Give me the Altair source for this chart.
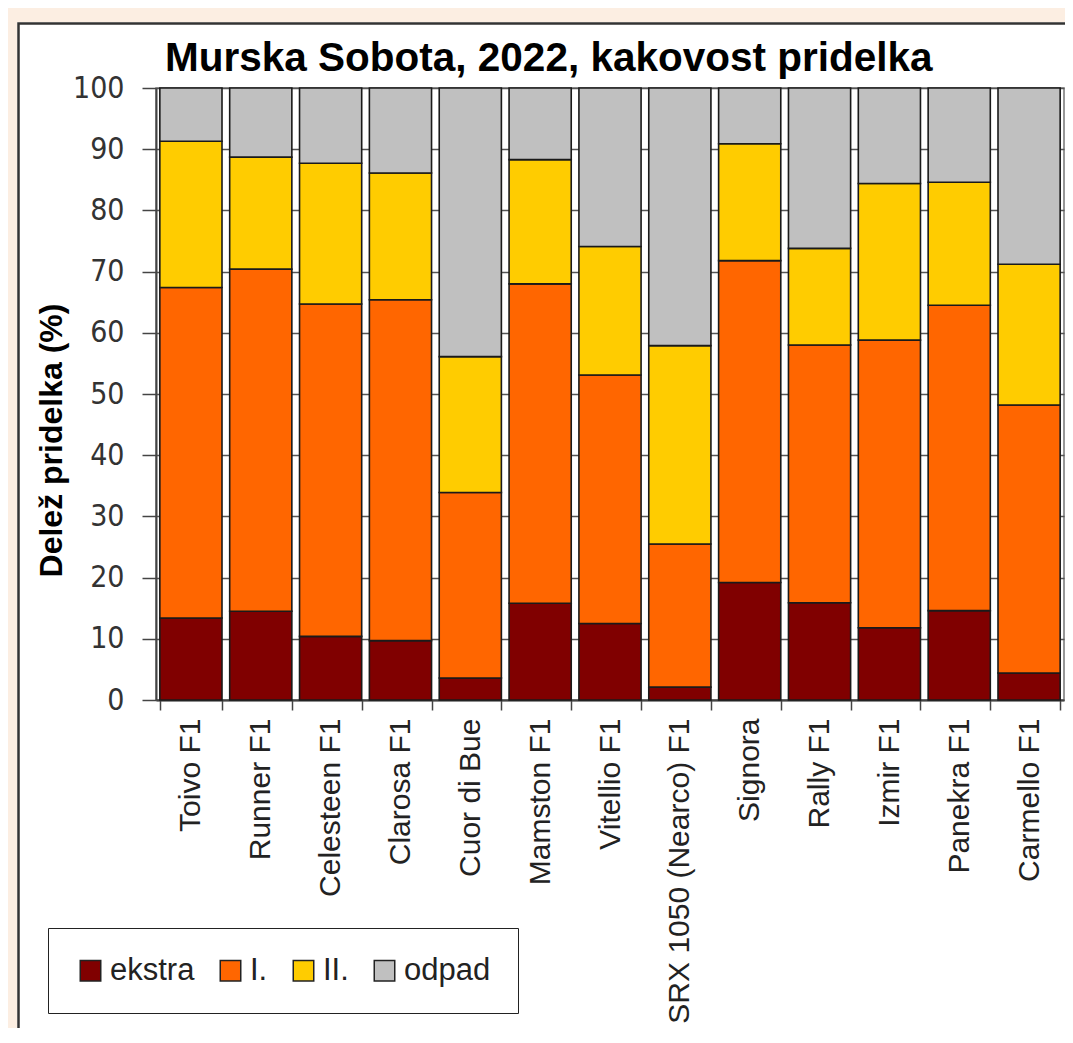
import altair as alt
import pandas as pd

# --- data (cumulative tops of each class, %) ---
sorte = ["Toivo F1", "Runner F1", "Celesteen F1", "Clarosa F1", "Cuor di Bue",
         "Mamston F1", "Vitellio F1", "SRX 1050 (Nearco) F1", "Signora",
         "Rally F1", "Izmir F1", "Panekra F1", "Carmello F1"]
top_ekstra = [13.4, 14.5, 10.4, 9.7, 3.6, 15.8, 12.5, 2.1, 19.2, 15.9, 11.8, 14.6, 4.4]
top_I = [67.4, 70.4, 64.7, 65.4, 33.9, 68.0, 53.1, 25.5, 71.8, 58.0, 58.8, 64.5, 48.2]
top_II = [91.3, 88.7, 87.7, 86.1, 56.1, 88.3, 74.1, 57.9, 90.9, 73.8, 84.4, 84.6, 71.2]
razredi = ["ekstra", "I.", "II.", "odpad"]
barve = ["#800000", "#FF6600", "#FFCC00", "#C0C0C0"]
y_ticks = [0, 10, 20, 30, 40, 50, 60, 70, 80, 90, 100]

rows = []
for i, s in enumerate(sorte):
    vals = [top_ekstra[i], top_I[i] - top_ekstra[i], top_II[i] - top_I[i], 100 - top_II[i]]
    for k, (r, v) in enumerate(zip(razredi, vals)):
        rows.append({"sorta": s, "razred": r, "red": k, "delez": round(v, 2)})
df = pd.DataFrame(rows)

deco = pd.DataFrame({"k": [0]})
PEACH = "#FCEEE2"

peach_top = alt.Chart(deco).mark_rect(fill=PEACH).encode(
    x=alt.value(-148), x2=alt.value(1200), y=alt.value(-80), y2=alt.value(-66))
peach_left = alt.Chart(deco).mark_rect(fill=PEACH).encode(
    x=alt.value(-148), x2=alt.value(-139), y=alt.value(-80), y2=alt.value(1200))
frame = alt.Chart(deco).mark_rect(filled=False, stroke="#333333", strokeWidth=2.5).encode(
    x=alt.value(-137.5), x2=alt.value(1300), y=alt.value(-64.5), y2=alt.value(1300))

bars = alt.Chart(df).mark_bar(stroke="#1a1a1a", strokeWidth=1.6).encode(
    x=alt.X("sorta:N", sort=sorte, title=None,
            scale=alt.Scale(paddingInner=0.11, paddingOuter=0.055),
            axis=alt.Axis(labelAngle=270, labelFont="Liberation Sans", labelFontSize=30,
                          labelColor="#222222", labelPadding=8, labelLimit=0,
                          tickBand="extent", tickSize=10, tickColor="#444444", tickWidth=1.5,
                          domainColor="#444444", domainWidth=2, grid=False)),
    y=alt.Y("delez:Q", stack="zero", title="Delež pridelka (%)",
            scale=alt.Scale(domain=[0, 100], nice=False),
            axis=alt.Axis(values=y_ticks, labelFont="DejaVu Sans Condensed, DejaVu Sans",
                          labelFontSize=30, labelColor="#333333", labelPadding=18,
                          tickSize=14, tickColor="#444444", tickWidth=1.5,
                          domainColor="#444444", domainWidth=2,
                          grid=True, gridColor="#555555", gridWidth=1.5,
                          titleFont="Liberation Sans", titleFontSize=32, titleFontWeight="bold",
                          titleColor="#000000", titleX=-105, titleY=352,
                          titleAlign="center", titleBaseline="middle", titleAngle=270)),
    color=alt.Color("razred:N", sort=razredi,
                    scale=alt.Scale(domain=razredi, range=barve),
                    legend=alt.Legend(title=None, orient="none", legendX=-108, legendY=840,
                                      direction="horizontal", symbolType="square",
                                      symbolSize=420, symbolStrokeColor="#222222",
                                      symbolStrokeWidth=1.5, symbolOpacity=1,
                                      labelFont="Liberation Sans", labelFontSize=31,
                                      labelColor="#222222", labelOffset=4, labelLimit=0,
                                      columnPadding=20, padding=27,
                                      strokeColor="#222222", fillColor="white")),
    order=alt.Order("red:Q", sort="ascending"),
)

chart = alt.layer(peach_top, peach_left, frame, bars).properties(
    width=908, height=612,
    title=alt.TitleParams("Murska Sobota, 2022, kakovost pridelka", font="Liberation Sans",
                          fontSize=40.5, fontWeight="bold", color="#000000",
                          anchor="start", frame="group", dx=9, offset=-103,
                          baseline="alphabetic"),
    autosize=alt.AutoSizeParams(type="none"),
    padding={"left": 148, "top": 80, "right": 1, "bottom": 328},
    background="white",
).configure_view(stroke="#777777", strokeWidth=1.5)

chart.save("out.html", embed_options={"renderer": "svg", "actions": False})
